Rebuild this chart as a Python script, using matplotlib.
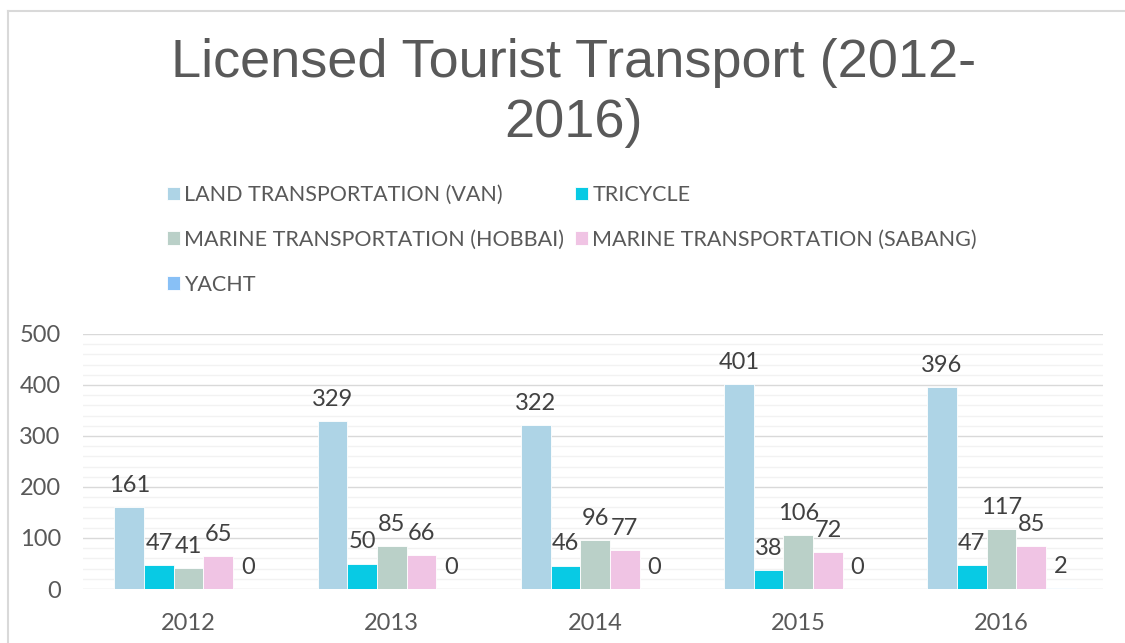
import matplotlib
matplotlib.use("Agg")
import matplotlib.pyplot as plt
import numpy as np
from matplotlib.lines import Line2D
from matplotlib.ticker import MultipleLocator

anos = ["2012", "2013", "2014", "2015", "2016"]
series = ["LAND TRANSPORTATION (VAN)", "TRICYCLE", "MARINE TRANSPORTATION (HOBBAI)",
          "MARINE TRANSPORTATION (SABANG)", "YACHT"]
van = [161, 329, 322, 401, 396]
tricycle = [47, 50, 46, 38, 47]
hobbai = [41, 85, 96, 106, 117]
sabang = [65, 66, 77, 72, 85]
yacht = [0, 0, 0, 0, 2]
cores = ["#aed4e6", "#08cae4", "#bad0c8", "#f0c4e4", "#88c0f6"]

plt.rcParams['font.family'] = ['Lato', 'DejaVu Sans']

fig = plt.figure(figsize=(11.25, 6.43), dpi=100)
ax = fig.add_axes([83 / 1125, 1 - 589 / 643, 1020 / 1125, 255 / 643])

x = np.arange(len(anos))
w = 0.146
valores = [van, tricycle, hobbai, sabang, yacht]
barrasTodas = []
for i, (nome, vals) in enumerate(zip(series, valores)):
    barras = ax.bar(x + (i - 2) * w, vals, w, color=cores[i], label=nome,
                    edgecolor="white", linewidth=0.6, zorder=3)
    ax.bar_label(barras, padding=8, fontsize=17, color="#404040")
    barrasTodas.append(barras)

ax.set_xlim(-0.52, 4.5)
ax.set_ylim(0, 500)
ax.yaxis.set_major_locator(MultipleLocator(100))
ax.yaxis.set_minor_locator(MultipleLocator(20))
ax.grid(axis="y", which="major", color="#d9d9d9", linewidth=1, zorder=0)
ax.grid(axis="y", which="minor", color="#f2f2f2", linewidth=1, zorder=0)
for s in ax.spines.values():
    s.set_visible(False)
ax.set_xticks(x)
ax.set_xticklabels(anos)
ax.tick_params(axis="both", which="both", length=0, labelsize=17, labelcolor="#595959")
ax.tick_params(axis="y", pad=16)
ax.tick_params(axis="x", pad=17)

fig.text(0.51, 1 - 38 / 643, "Licensed Tourist Transport (2012-\n2016)", ha="center", va="top",
         fontsize=39, color="#595959", family=["Liberation Sans", "DejaVu Sans"],
         linespacing=1.25)

# ordem por linha, como no Excel
ordem = [0, 2, 4, 1, 3]
fig.legend([barrasTodas[k] for k in ordem], [series[k] for k in ordem],
           loc="upper left", bbox_to_anchor=(167 / 1125, 1 - 185 / 643), ncol=2, frameon=False,
           fontsize=15.5, labelcolor="#595959", handlelength=0.6, handleheight=0.6,
           handletextpad=0.2, labelspacing=1.15, columnspacing=0.5, borderpad=0,
           borderaxespad=0)

fig.add_artist(Line2D([7.5 / 1125, 7.5 / 1125], [0, 1 - 11 / 643], color="#d9d9d9", lw=1.5))
fig.add_artist(Line2D([7.5 / 1125, 1], [1 - 11 / 643, 1 - 11 / 643], color="#d9d9d9", lw=1.5))

fig.savefig("out.png", dpi=100)
